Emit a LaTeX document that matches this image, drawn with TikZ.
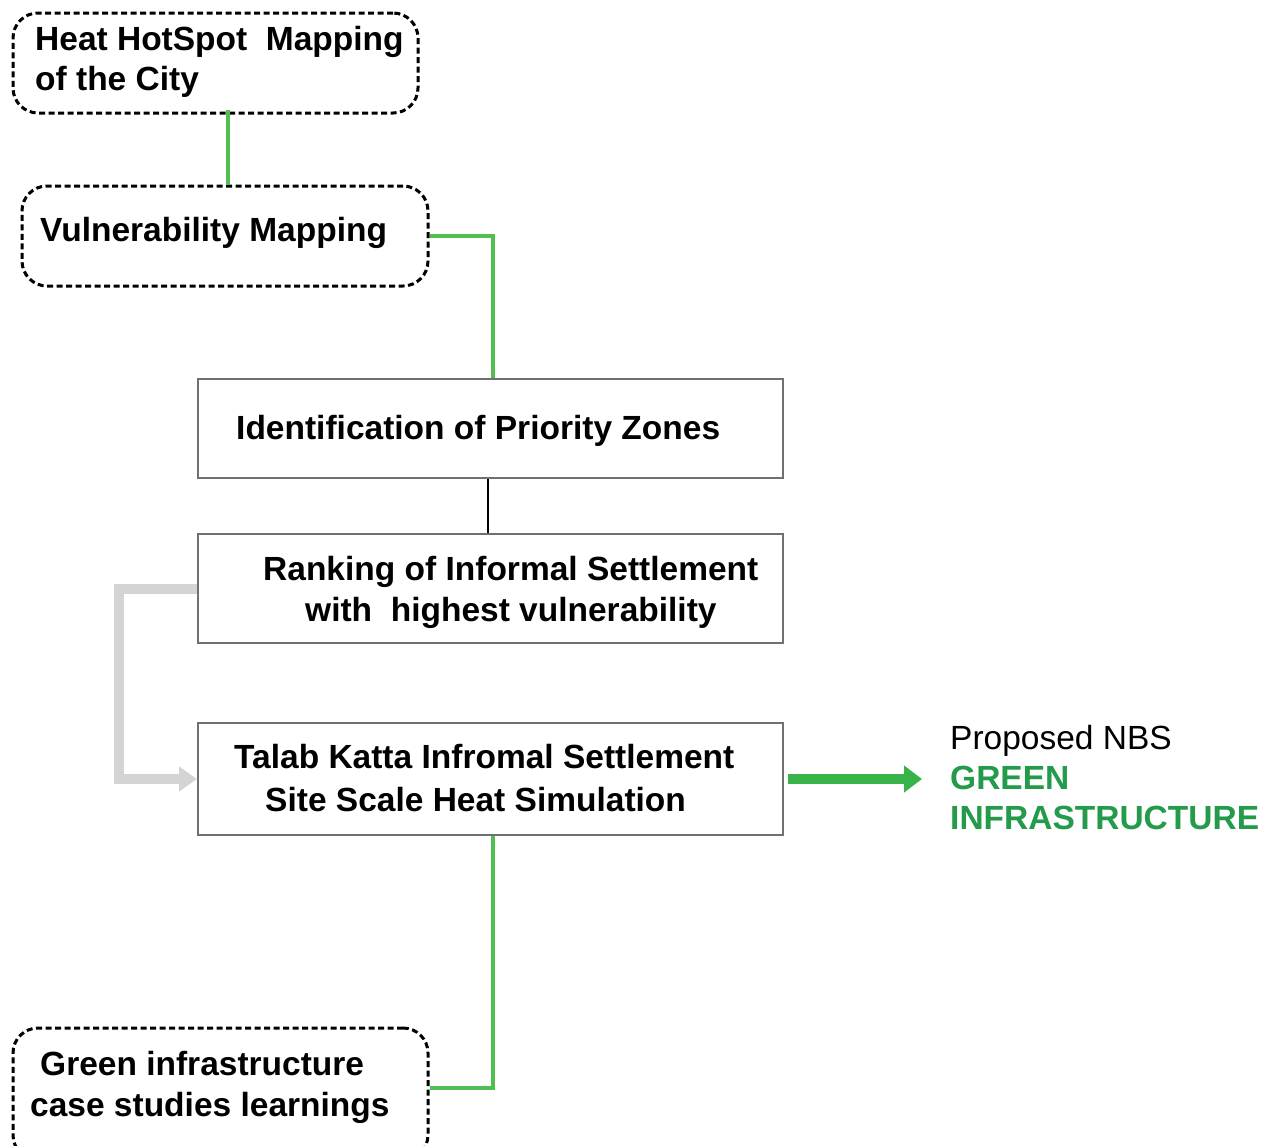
\documentclass[tikz,border=0pt]{standalone}
\usepackage{fontspec}
\setmainfont{Liberation Sans}
\usetikzlibrary{arrows.meta}
\definecolor{gline}{RGB}{80,190,80}
\definecolor{garrow}{RGB}{57,178,74}
\definecolor{gtext}{RGB}{35,155,75}
\definecolor{bordergray}{RGB}{112,112,112}
\definecolor{lgray}{RGB}{212,212,212}
\begin{document}
\begin{tikzpicture}[x=1pt,y=-1pt,
  dbox/.style={draw=black, line width=3pt, dash pattern=on 6pt off 3.5pt, rounded corners=25pt, inner sep=0pt},
  sbox/.style={draw=bordergray, line width=2pt, inner sep=0pt, minimum width=585pt},
  txt/.style={font=\fontsize{33.5}{40}\selectfont\bfseries, anchor=base west, inner sep=0pt},
  rtxt/.style={font=\fontsize{33.5}{40}\selectfont, anchor=base west, inner sep=0pt},
  greenline/.style={draw=gline, line width=4pt},
]
\useasboundingbox (0,0) rectangle (1280,1146);
\clip (0,0) rectangle (1280,1146);
\fill[white] (0,0) rectangle (1280,1146);

% boxes
\node[dbox, minimum width=405pt, minimum height=100pt] (hot) at (215.5,63) {};
\node[dbox, minimum width=406pt, minimum height=100pt] (vul) at (225,236) {};
\node[sbox, minimum height=99pt] (pri) at (490.5,428.5) {};
\node[sbox, minimum height=109pt] (rank) at (490.5,588.5) {};
\node[sbox, minimum height=112pt] (talab) at (490.5,779) {};
\node[dbox, minimum width=415pt, minimum height=132pt] (gi) at (220.5,1094) {};

% texts
\node[txt] (t1a) at (35,50) {Heat HotSpot\ \ Mapping};
\node[txt] (t1b) at (35,90) {of the City};
\node[txt] (t2) at (40,241) {Vulnerability Mapping};
\node[txt] (t3) at (236,439) {Identification of Priority Zones};
\node[txt] (t4a) at (263,580) {Ranking of Informal Settlement};
\node[txt] (t4b) at (305,621) {with\ \ highest vulnerability};
\node[txt] (t5a) at (234,768) {Talab Katta Infromal Settlement};
\node[txt] (t5b) at (265,811) {Site Scale Heat Simulation};
\node[txt] (t6a) at (40,1075) {Green infrastructure};
\node[txt] (t6b) at (30,1116) {case studies learnings};
\node[rtxt] (nbs) at (950,749) {Proposed NBS};
\node[txt, text=gtext] (nbs2) at (950,789) {GREEN};
\node[txt, text=gtext] (nbs3) at (950,829) {INFRASTRUCTURE};

% connectors
\draw[greenline] ([xshift=12.5pt,yshift=5pt]hot.south) -- ([xshift=3pt]vul.north);
\draw[greenline] (vul.east) -| ([xshift=2.5pt]pri.north);
\draw[black, line width=2pt] ([xshift=-2.5pt]pri.south) -- ([xshift=-2.5pt]rank.north);
\draw[draw=lgray, line width=10pt, -{Triangle[length=18pt,width=24pt]}]
  (rank.west) -- ++(-78,0) |- (talab.west);
\coordinate (arrend) at (922,779);
\draw[draw=garrow, line width=10pt, -{Triangle[length=18pt,width=26pt]}]
  ([xshift=4pt]talab.east) -- (arrend);
\draw[greenline] ([xshift=2.5pt]talab.south) |- ([yshift=6pt]gi.east);
\end{tikzpicture}
\end{document}
